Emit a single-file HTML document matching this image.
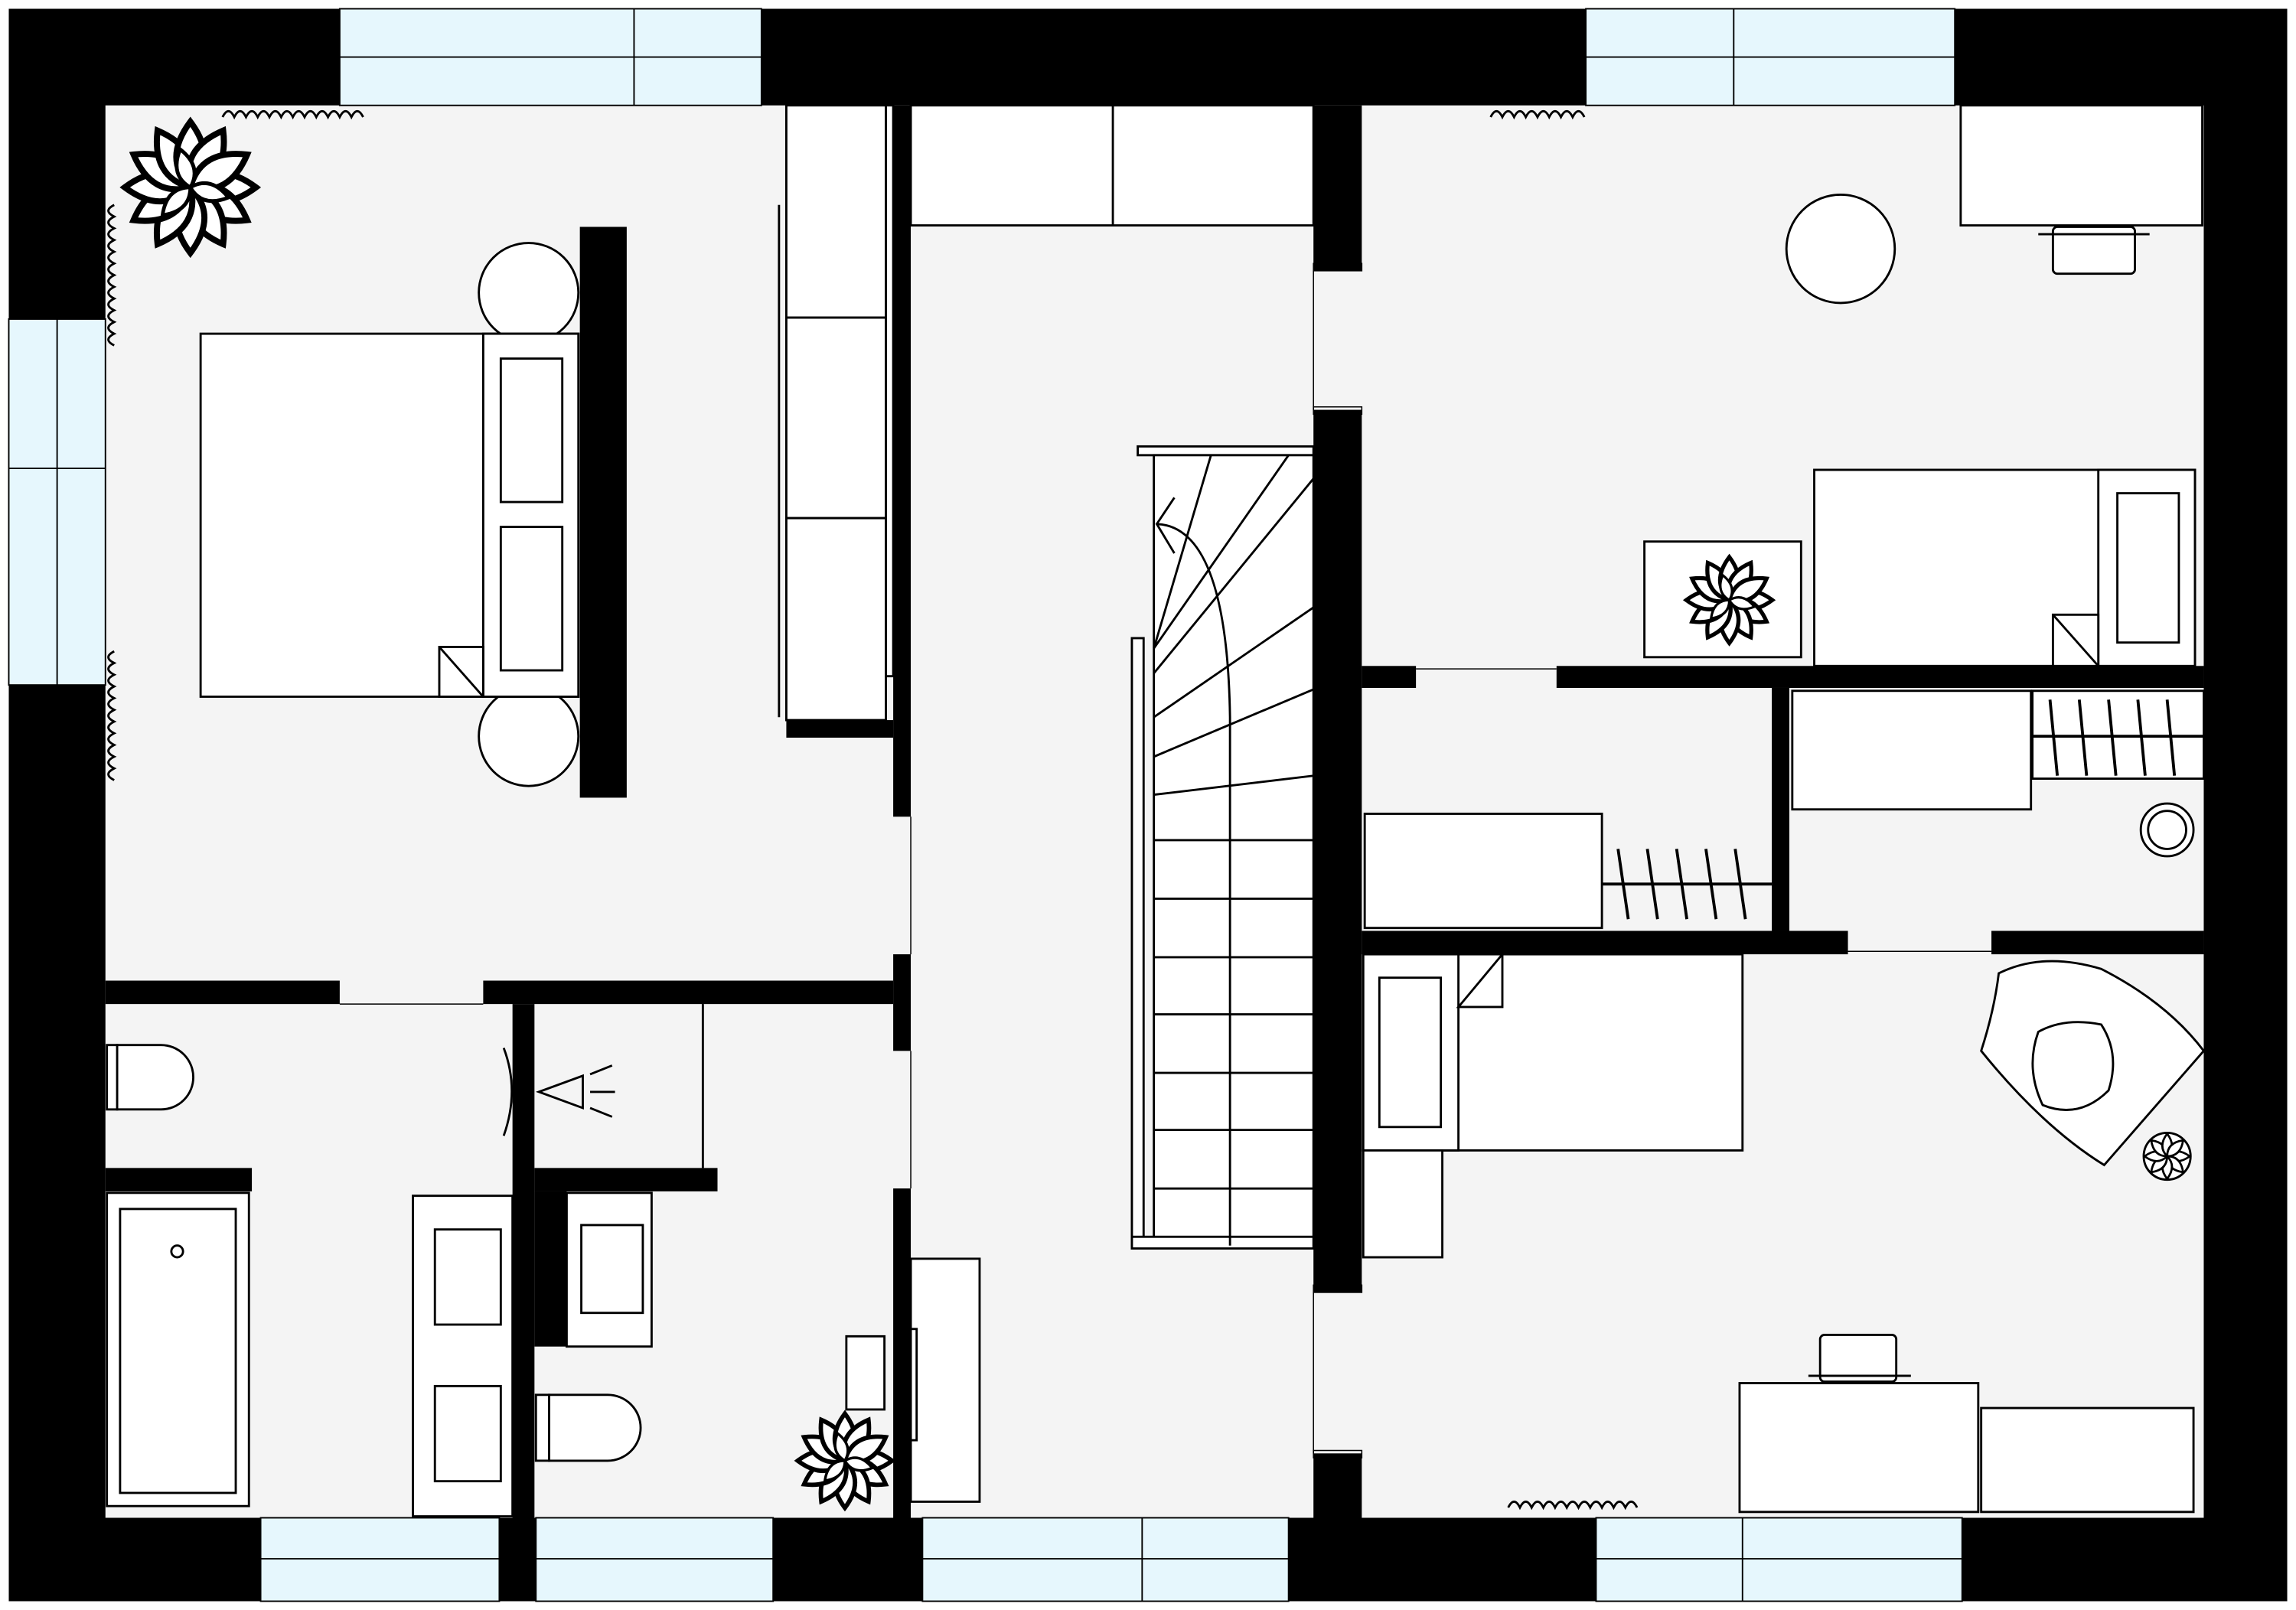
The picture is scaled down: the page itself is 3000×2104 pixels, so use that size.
<!DOCTYPE html>
<html><head><meta charset="utf-8"><style>html,body{margin:0;padding:0;background:#fff}svg{display:block}</style></head>
<body>
<svg width="3000" height="2104" viewBox="0 0 1568 1100" preserveAspectRatio="none" xmlns="http://www.w3.org/2000/svg">
<defs>
<path id="leaf" d="M0 0 Q6 -6 14 0 Q6 6 0 0 Z"/>
</defs>
<rect x="0" y="0" width="1568" height="1100" fill="#fff"/>
<rect x="6" y="6" width="1556" height="1088" fill="#000"/>
<rect x="72" y="72" width="1433" height="965" fill="#f4f4f4"/>
<g fill="#e6f7fd" stroke="#000" stroke-width="1">
<rect x="232" y="6" width="288" height="66"/><line x1="232" y1="39" x2="520" y2="39"/><line x1="433" y1="6" x2="433" y2="72"/>
<rect x="1083" y="6" width="252" height="66"/><line x1="1083" y1="39" x2="1335" y2="39"/><line x1="1184" y1="6" x2="1184" y2="72"/>
<rect x="6" y="218" width="66" height="250"/><line x1="39" y1="218" x2="39" y2="468"/><line x1="6" y1="320" x2="72" y2="320"/>
<rect x="178" y="1037" width="163" height="57"/><line x1="178" y1="1065" x2="341" y2="1065"/>
<rect x="366" y="1037" width="162" height="57"/><line x1="366" y1="1065" x2="528" y2="1065"/>
<rect x="630" y="1037" width="250" height="57"/><line x1="630" y1="1065" x2="880" y2="1065"/><line x1="780" y1="1037" x2="780" y2="1094"/>
<rect x="1090" y="1037" width="250" height="57"/><line x1="1090" y1="1065" x2="1340" y2="1065"/><line x1="1190" y1="1037" x2="1190" y2="1094"/>
</g>
<g fill="#000">
<rect x="610" y="72" width="12" height="486"/>
<rect x="610" y="652" width="12" height="66"/>
<rect x="610" y="812" width="12" height="225"/>
<rect x="537" y="492" width="73" height="12"/>
<rect x="897" y="72" width="33" height="113"/>
<rect x="897" y="280" width="33" height="603"/>
<rect x="897" y="993" width="33" height="44"/>
<rect x="72" y="670" width="160" height="16"/>
<rect x="330" y="670" width="280" height="16"/>
<rect x="350" y="686" width="15" height="351"/>
<rect x="72" y="798" width="100" height="16"/>
<rect x="365" y="798" width="125" height="16"/>
<rect x="365" y="814" width="22" height="106"/>
<rect x="930" y="455" width="37" height="15"/>
<rect x="1063" y="455" width="442" height="15"/>
<rect x="930" y="636" width="332" height="16"/>
<rect x="1360" y="636" width="145" height="16"/>
<rect x="1210" y="470" width="12" height="166"/>
<rect x="396" y="155" width="32" height="390"/>
</g>
<!-- door thresholds -->
<g fill="none" stroke="#000" stroke-width="0.8">
<line x1="232" y1="686" x2="330" y2="686"/><line x1="967" y1="457" x2="1063" y2="457"/>
<line x1="1262" y1="650" x2="1360" y2="650"/><line x1="622" y1="558" x2="622" y2="652"/><line x1="622" y1="718" x2="622" y2="812"/>
<line x1="897" y1="185" x2="897" y2="280"/><line x1="897" y1="883" x2="897" y2="993"/>
<rect x="897" y="180" width="33" height="5"/><rect x="897" y="278" width="33" height="5"/>
<rect x="897" y="878" width="33" height="5"/><rect x="897" y="991" width="33" height="5"/>
</g>
<g fill="#fff" stroke="#000" stroke-width="1.5">
<circle cx="361" cy="200" r="34"/><circle cx="361" cy="503" r="34"/>
<rect x="137" y="228" width="258" height="248"/>
<rect x="330" y="228" width="65" height="248"/>
<rect x="342" y="245" width="42" height="98"/><rect x="342" y="360" width="42" height="98"/>
<path d="M300 476 L300 442 L330 442 L330 476 Z"/><line x1="300" y1="442" x2="330" y2="476"/>
<rect x="537" y="72" width="68" height="145"/><rect x="537" y="217" width="68" height="137"/><rect x="537" y="354" width="68" height="138"/>
<line x1="532" y1="140" x2="532" y2="490"/>
<rect x="622" y="72" width="275" height="82"/><line x1="760" y1="72" x2="760" y2="154"/>
<rect x="605" y="72" width="5" height="390"/>
<rect x="777" y="305" width="120" height="6"/>
<rect x="788" y="311" width="109" height="540"/>
<rect x="773" y="436" width="8" height="415"/>
<rect x="773" y="845" width="124" height="8"/>
<rect x="622" y="860" width="47" height="166"/>
<rect x="622" y="908" width="4" height="76"/>
<circle cx="1257" cy="170" r="37"/>
<rect x="1339" y="72" width="165" height="82"/>
<rect x="1402" y="155" width="56" height="32" rx="3"/>
<line x1="1392" y1="160" x2="1468" y2="160"/>
<rect x="1239" y="321" width="260" height="134"/>
<rect x="1433" y="321" width="66" height="134"/>
<rect x="1446" y="337" width="42" height="102"/>
<path d="M1402 455 L1402 420 L1433 420 L1433 455 Z"/><line x1="1402" y1="420" x2="1433" y2="455"/>
<rect x="1123" y="370" width="107" height="79"/>
<rect x="932" y="556" width="162" height="78"/>
<rect x="1224" y="472" width="163" height="81"/>
<rect x="1388" y="472" width="117" height="60"/>
<circle cx="1480" cy="567" r="18"/><circle cx="1480" cy="567" r="13"/>
<rect x="931" y="652" width="259" height="134"/>
<rect x="931" y="652" width="65" height="134"/>
<rect x="942" y="668" width="42" height="102"/>
<path d="M996 688 L1026 652 L1026 688 Z"/>
<rect x="931" y="786" width="54" height="73"/>
<path d="M1365 665 Q1395 650 1435 662 Q1480 685 1505 718 L1437 796 Q1395 770 1353 718 Q1362 690 1365 665 Z"/>
<path d="M1392 705 Q1410 695 1435 700 Q1448 720 1440 745 Q1420 765 1395 755 Q1383 730 1392 705 Z"/>
<circle cx="1480" cy="790" r="16"/>
<rect x="1188" y="945" width="163" height="88"/>
<rect x="1353" y="962" width="145" height="71"/>
<rect x="1243" y="912" width="52" height="32" rx="3"/>
<line x1="1235" y1="940" x2="1305" y2="940"/>
<path d="M80 714 L110 714 A22 22 0 0 1 110 758 L80 758 Z"/><rect x="73" y="714" width="7" height="44"/>
<rect x="73" y="815" width="97" height="214"/><rect x="82" y="826" width="79" height="194"/>
<circle cx="121" cy="855" r="4"/>
<rect x="282" y="817" width="68" height="219"/>
<rect x="297" y="840" width="45" height="65"/><rect x="297" y="947" width="45" height="65"/>
<rect x="387" y="815" width="58" height="105"/><rect x="397" y="837" width="42" height="60"/>
<path d="M375 953 L415 953 A22 22 0 0 1 415 998 L375 998 Z"/><rect x="366" y="953" width="9" height="45"/>
<rect x="578" y="913" width="26" height="50"/>
<path d="M344 716 Q355 745 344 776" fill="none"/>
</g>
<g stroke="#000" stroke-width="1.5" fill="none">
<line x1="788" y1="574" x2="897" y2="574"/><line x1="788" y1="614" x2="897" y2="614"/><line x1="788" y1="654" x2="897" y2="654"/>
<line x1="788" y1="693" x2="897" y2="693"/><line x1="788" y1="733" x2="897" y2="733"/><line x1="788" y1="772" x2="897" y2="772"/>
<line x1="788" y1="812" x2="897" y2="812"/>
<line x1="788" y1="543" x2="897" y2="530"/><line x1="788" y1="517" x2="897" y2="471"/><line x1="788" y1="490" x2="897" y2="415"/>
<line x1="788" y1="460" x2="897" y2="327"/><line x1="788" y1="443" x2="880" y2="311"/><line x1="788" y1="443" x2="827" y2="311"/>
<path d="M840 851 L840 490 Q838 360 790 358"/><path d="M802 340 L790 358 L802 378"/>
<path d="M152 80 q4 -8 8 0 q4 -8 8 0 q4 -8 8 0 q4 -8 8 0 q4 -8 8 0 q4 -8 8 0 q4 -8 8 0 q4 -8 8 0 q4 -8 8 0 q4 -8 8 0 q4 -8 8 0 q4 -8 8 0"/>
<path d="M1018 80 q4 -8 8 0 q4 -8 8 0 q4 -8 8 0 q4 -8 8 0 q4 -8 8 0 q4 -8 8 0 q4 -8 8 0 q4 -8 8 0"/>
<path d="M1030 1030 q4 -8 8 0 q4 -8 8 0 q4 -8 8 0 q4 -8 8 0 q4 -8 8 0 q4 -8 8 0 q4 -8 8 0 q4 -8 8 0 q4 -8 8 0 q4 -8 8 0 q4 -8 8 0"/>
<path d="M78 140 q-8 4 0 8 q-8 4 0 8 q-8 4 0 8 q-8 4 0 8 q-8 4 0 8 q-8 4 0 8 q-8 4 0 8 q-8 4 0 8 q-8 4 0 8 q-8 4 0 8 q-8 4 0 8 q-8 4 0 8"/>
<path d="M78 445 q-8 4 0 8 q-8 4 0 8 q-8 4 0 8 q-8 4 0 8 q-8 4 0 8 q-8 4 0 8 q-8 4 0 8 q-8 4 0 8 q-8 4 0 8 q-8 4 0 8 q-8 4 0 8"/>
<path d="M368 746 L398 735 L398 757 Z"/><line x1="403" y1="734" x2="418" y2="728"/><line x1="403" y1="746" x2="420" y2="746"/><line x1="403" y1="757" x2="418" y2="763"/>
<line x1="480" y1="686" x2="480" y2="798"/>
<g stroke-width="2">
<line x1="1105" y1="580" x2="1112" y2="628"/><line x1="1125" y1="580" x2="1132" y2="628"/><line x1="1145" y1="580" x2="1152" y2="628"/><line x1="1165" y1="580" x2="1172" y2="628"/><line x1="1185" y1="580" x2="1192" y2="628"/>
<line x1="1094" y1="604" x2="1210" y2="604"/>
<line x1="1400" y1="478" x2="1405" y2="530"/><line x1="1420" y1="478" x2="1425" y2="530"/><line x1="1440" y1="478" x2="1445" y2="530"/><line x1="1460" y1="478" x2="1465" y2="530"/><line x1="1480" y1="478" x2="1485" y2="530"/><line x1="1388" y1="503" x2="1505" y2="503"/>
</g>
</g>
<!-- plants: leaf clusters -->
<g fill="#fff" stroke="#000" stroke-width="1.3">
<g transform="translate(130,128) scale(3.2)">
<use href="#leaf" transform="rotate(0)"/><use href="#leaf" transform="rotate(30)"/><use href="#leaf" transform="rotate(60)"/><use href="#leaf" transform="rotate(90)"/><use href="#leaf" transform="rotate(120)"/><use href="#leaf" transform="rotate(150)"/><use href="#leaf" transform="rotate(180)"/><use href="#leaf" transform="rotate(210)"/><use href="#leaf" transform="rotate(240)"/><use href="#leaf" transform="rotate(270)"/><use href="#leaf" transform="rotate(300)"/><use href="#leaf" transform="rotate(330)"/>
<use href="#leaf" transform="rotate(15) scale(0.6)"/><use href="#leaf" transform="rotate(135) scale(0.6)"/><use href="#leaf" transform="rotate(255) scale(0.6)"/>
</g>
<g transform="translate(1181,410) scale(2.1)">
<use href="#leaf" transform="rotate(0)"/><use href="#leaf" transform="rotate(30)"/><use href="#leaf" transform="rotate(60)"/><use href="#leaf" transform="rotate(90)"/><use href="#leaf" transform="rotate(120)"/><use href="#leaf" transform="rotate(150)"/><use href="#leaf" transform="rotate(180)"/><use href="#leaf" transform="rotate(210)"/><use href="#leaf" transform="rotate(240)"/><use href="#leaf" transform="rotate(270)"/><use href="#leaf" transform="rotate(300)"/><use href="#leaf" transform="rotate(330)"/>
<use href="#leaf" transform="rotate(15) scale(0.6)"/><use href="#leaf" transform="rotate(135) scale(0.6)"/><use href="#leaf" transform="rotate(255) scale(0.6)"/>
</g>
<g transform="translate(577,998) scale(2.3)">
<use href="#leaf" transform="rotate(0)"/><use href="#leaf" transform="rotate(30)"/><use href="#leaf" transform="rotate(60)"/><use href="#leaf" transform="rotate(90)"/><use href="#leaf" transform="rotate(120)"/><use href="#leaf" transform="rotate(150)"/><use href="#leaf" transform="rotate(180)"/><use href="#leaf" transform="rotate(210)"/><use href="#leaf" transform="rotate(240)"/><use href="#leaf" transform="rotate(270)"/><use href="#leaf" transform="rotate(300)"/><use href="#leaf" transform="rotate(330)"/>
<use href="#leaf" transform="rotate(15) scale(0.6)"/><use href="#leaf" transform="rotate(135) scale(0.6)"/><use href="#leaf" transform="rotate(255) scale(0.6)"/>
</g>
<g transform="translate(1480,790) scale(1.1)">
<use href="#leaf" transform="rotate(0)"/><use href="#leaf" transform="rotate(45)"/><use href="#leaf" transform="rotate(90)"/><use href="#leaf" transform="rotate(135)"/><use href="#leaf" transform="rotate(180)"/><use href="#leaf" transform="rotate(225)"/><use href="#leaf" transform="rotate(270)"/><use href="#leaf" transform="rotate(315)"/>
</g>
</g>
</svg>
</body></html>
